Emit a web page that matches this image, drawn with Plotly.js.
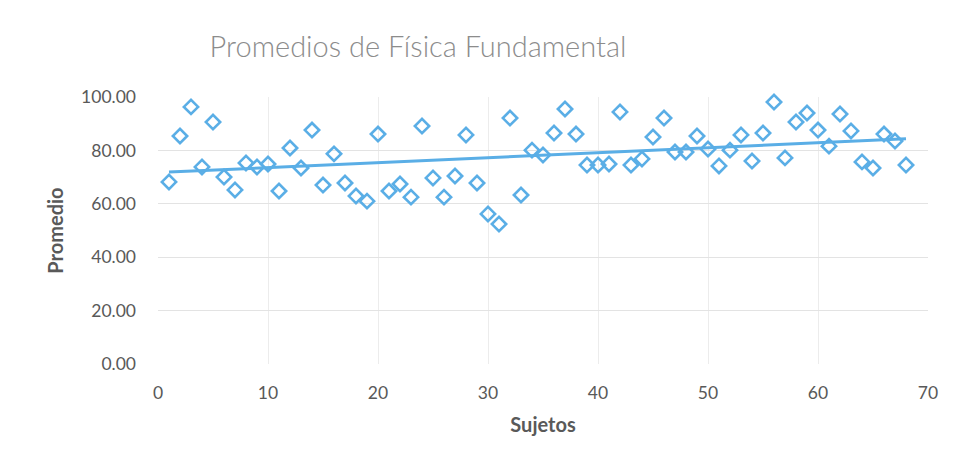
<!DOCTYPE html>
<html>
<head>
<meta charset="utf-8">
<script src="https://cdn.plot.ly/plotly-3.0.1.min.js"></script>
<style>html,body{margin:0;padding:0;background:#fff;}#chart{width:956px;height:472px;}</style>
</head>
<body>
<div id="chart"></div>
<script>
// Sujetos (x) and Promedio (y)
const sujetos = [];
for (let i = 1; i <= 68; i++) sujetos.push(i);
const promedios = [
  68.2, 85.4, 96.3, 73.8, 90.6, 70.0, 65.2, 75.3, 73.8, 74.9,
  64.8, 80.9, 73.4, 87.6, 67.0, 78.7, 67.8, 62.9, 61.0, 86.1,
  64.8, 67.4, 62.5, 89.1, 69.7, 62.5, 70.4, 85.8, 67.8, 56.2,
  52.4, 92.1, 63.3, 80.1, 78.3, 86.5, 95.5, 86.1, 74.5, 74.5,
  74.9, 94.4, 74.5, 76.8, 85.0, 92.1, 79.4, 79.4, 85.4, 80.5,
  74.2, 80.1, 85.8, 76.0, 86.5, 98.1, 77.2, 90.6, 94.0, 87.6,
  81.6, 93.6, 87.3, 75.7, 73.4, 86.1, 83.5, 74.5
];
const xTicks = [0, 10, 20, 30, 40, 50, 60, 70];
const yTicks = [0, 20, 40, 60, 80, 100];

// Linear trend line (least squares), as Excel's linear trendline
const n = sujetos.length;
const mx = sujetos.reduce((a, b) => a + b, 0) / n;
const my = promedios.reduce((a, b) => a + b, 0) / n;
let sxy = 0, sxx = 0;
for (let i = 0; i < n; i++) { sxy += (sujetos[i] - mx) * (promedios[i] - my); sxx += (sujetos[i] - mx) ** 2; }
const slope = sxy / sxx, intercept = my - slope * mx;
const trendX = [sujetos[0], sujetos[n - 1]];
const trendY = trendX.map(x => intercept + slope * x);

const blue = '#5aaee6';
const gray = '#595959';
const font = 'Lato, "Open Sans", sans-serif';

const data = [
  {
    x: sujetos, y: promedios, type: 'scatter', mode: 'markers',
    marker: { symbol: 'diamond-open', size: 11, color: blue, line: { width: 2.6, color: blue } },
    cliponaxis: false, hoverinfo: 'x+y'
  },
  {
    x: trendX, y: trendY, type: 'scatter', mode: 'lines',
    line: { color: blue, width: 3 }, cliponaxis: false, hoverinfo: 'skip'
  }
];

const layout = {
  width: 956, height: 472,
  paper_bgcolor: '#ffffff', plot_bgcolor: '#ffffff',
  showlegend: false,
  margin: { l: 158, r: 28, t: 97, b: 108 },
  font: { family: font, color: gray },
  title: {
    text: 'Promedios de Física Fundamental',
    font: { family: font, size: 29, color: '#8c8c8c', weight: 300 },
    x: 418 / 956, xanchor: 'center', xref: 'container',
    y: 1 - 47 / 472, yanchor: 'middle', yref: 'container'
  },
  xaxis: {
    range: [0, 70], tickvals: xTicks, ticktext: xTicks.map(String),
    showgrid: true, gridcolor: '#ececec', gridwidth: 1,
    zeroline: false, showline: false, ticks: '',
    tickfont: { family: font, size: 17.5, color: gray },
    ticklabelstandoff: 16,
    title: { text: 'Sujetos', font: { family: font, size: 20, color: gray, weight: 'bold' }, standoff: 16 }
  },
  yaxis: {
    range: [0, 100], tickvals: yTicks, ticktext: yTicks.map(v => v.toFixed(2)),
    showgrid: true, gridcolor: '#e3e3e3', gridwidth: 1,
    zeroline: false, showline: false, ticks: '',
    tickfont: { family: font, size: 17.5, color: gray },
    ticklabelstandoff: 21,
    title: { text: 'Promedio', font: { family: font, size: 20, color: gray, weight: 'bold' }, standoff: 12 }
  }
};

Plotly.newPlot('chart', data, layout, { displayModeBar: false, staticPlot: true });
</script>
</body>
</html>
